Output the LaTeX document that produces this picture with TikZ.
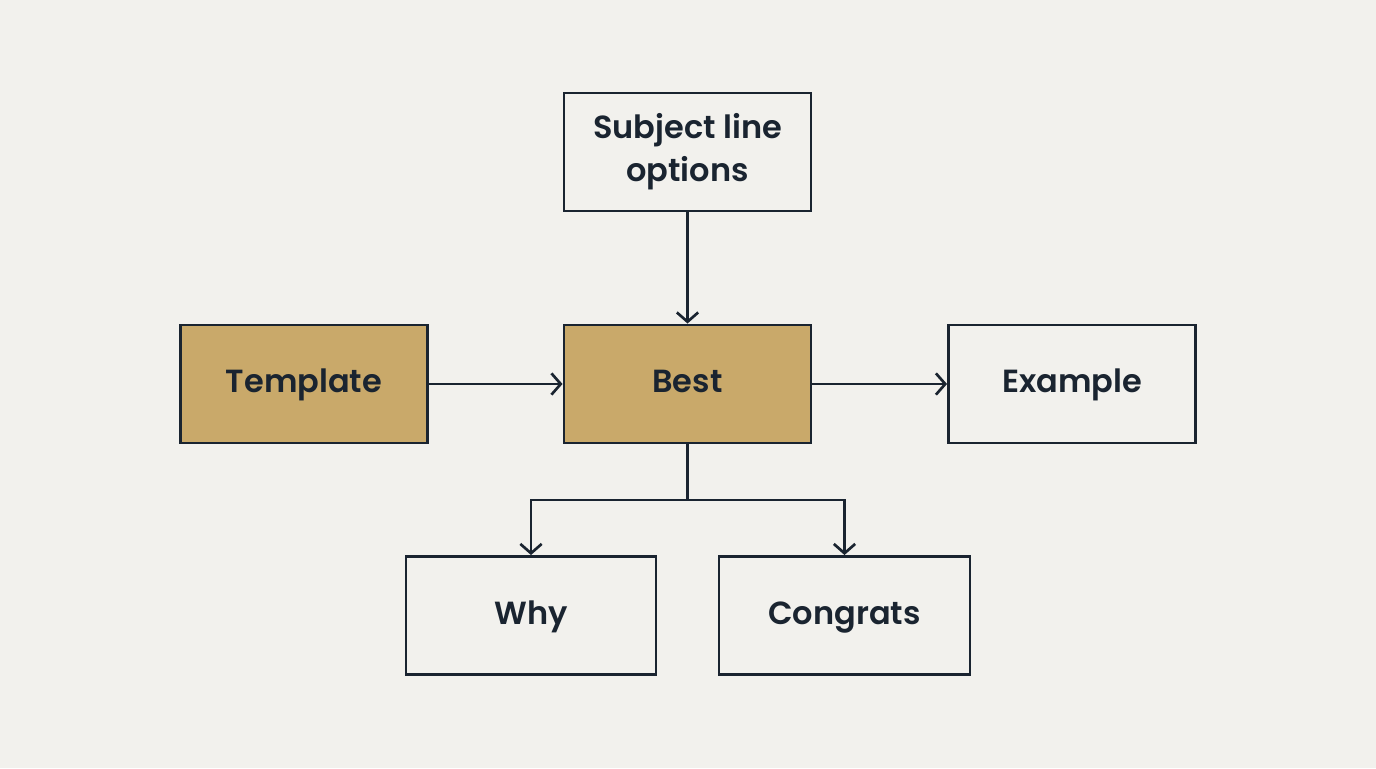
\documentclass[tikz,border=0pt]{standalone}
\usepackage{fontspec}
\setmainfont{Poppins}[UprightFont=* SemiBold, BoldFont=* SemiBold]
\usetikzlibrary{arrows.meta}
\definecolor{bg}{HTML}{F2F1ED}
\definecolor{ink}{HTML}{1A2430}
\definecolor{tan}{HTML}{C9A96A}
\begin{document}
\begin{tikzpicture}[x=0.75pt,y=-0.75pt,
 box/.style={draw=ink,line width=2.2pt,minimum width=247*0.75pt,minimum height=118*0.75pt,align=center,font=\fontsize{24}{32}\selectfont,text=ink,inner sep=0pt},
 hl/.style={box,fill=tan},
 arr/.style={draw=ink,line width=2pt,-{Straight Barb[length=7pt,width=16pt,line width=2pt]}}]
\fill[bg] (0,0) rectangle (1376,768);
\useasboundingbox (0,0) rectangle (1376,768);
\node[box] (subj) at (687.5,152) {\raisebox{-2pt}{\parbox{5cm}{\centering Subject line\\options}}};
\node[hl] (tmpl) at (304,384) {\raisebox{-2pt}{\strut Template}};
\node[hl] (best) at (687.5,384) {\raisebox{-2pt}{\strut Best}};
\node[box] (ex) at (1072,384) {\raisebox{-2pt}{\strut Example}};
\node[box,minimum width=250*0.75pt] (why) at (531,615.5) {\raisebox{-2pt}{\strut Why}};
\node[box,minimum width=251*0.75pt] (cong) at (844.5,615.5) {\raisebox{-2pt}{\strut Congrats}};
\coordinate (j) at (687.5,500);
\draw[arr] (subj) -- (best);
\draw[arr] (tmpl) -- (best);
\draw[arr] (best) -- (ex);
\draw[draw=ink,line width=2pt] (best) -- (j);
\draw[arr] (j) -| (why);
\draw[arr] (j) -| (cong);
\end{tikzpicture}
\end{document}
